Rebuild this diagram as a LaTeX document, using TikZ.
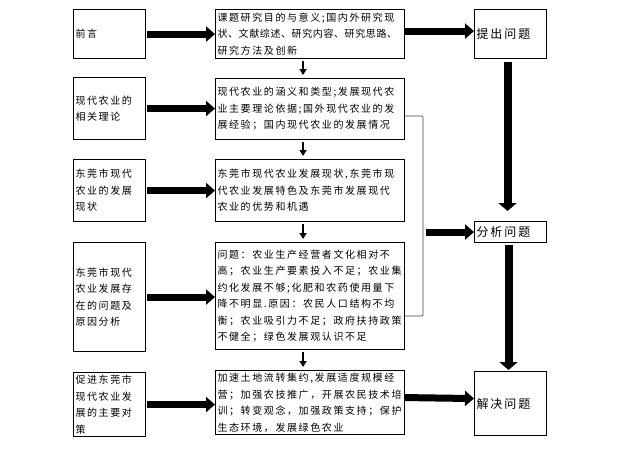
\documentclass[tikz,border=0pt]{standalone}
\usepackage{fontspec}
\newfontfamily\cjk[LetterSpace=16]{Noto Sans CJK SC}
\newfontfamily\cjktight[LetterSpace=6]{Noto Sans CJK SC}
\usetikzlibrary{arrows.meta,calc}
\begin{document}
\begin{tikzpicture}[x=1pt,y=-1pt,
  box/.style={draw, line width=1.1pt, anchor=north west, inner xsep=2pt, inner ysep=0pt,
    align=left, font=\cjk\fontsize{10}{16.5}\selectfont},
  lbox/.style={box, minimum width=72pt, text width=68pt},
  mbox/.style={box, minimum width=189pt, text width=185pt},
  rbox/.style={box, minimum width=72pt, text width=68pt, font=\cjk\fontsize{12}{16}\selectfont},
  harrow/.style={line width=7pt, -{Triangle[length=9pt,width=15pt]}},
  varrow/.style={line width=8pt, -{Triangle[length=8pt,width=18pt]}},
  sarrow/.style={line width=2.2pt, -{Triangle[length=6pt,width=7pt]}},
  bracket/.style={draw=black!75, line width=0.7pt, rounded corners=1pt}
]
\useasboundingbox (0,0) rectangle (636,448);

% left column
\node[lbox, minimum height=49pt] (L1) at (73,9) {前言};
\node[lbox, minimum height=62pt] (L2) at (73,77) {现代农业的\\相关理论};
\node[lbox, minimum height=62pt] (L3) at (73,159) {东莞市现代\\农业的发展\\现状};
\node[lbox, minimum height=109pt] (L4) at (73,242) {东莞市现代\\农业发展存\\在的问题及\\原因分析};
\node[lbox, minimum height=64pt] (L5) at (73,372) {促进东莞市\\现代农业发\\展的主要对\\策};

% middle column
\node[mbox, minimum height=49pt] (M1) at (215,9) {课题研究目的与意义;国内外研究现\\{\cjktight 状、文献综述、研究内容、研究思路、}\\研究方法及创新};
\node[mbox, minimum height=61pt] (M2) at (215,78) {现代农业的涵义和类型;发展现代农\\业主要理论依据;国外现代农业的发\\展经验；国内现代农业的发展情况};
\node[mbox, minimum height=62pt] (M3) at (215,159) {东莞市现代农业发展现状,东莞市现\\代农业发展特色及东莞市发展现代\\农业的优势和机遇};
\node[mbox, minimum height=107pt] (M4) at (215,242) {问题：农业生产经营者文化相对不\\高；农业生产要素投入不足；农业集\\约化发展不够;化肥和农药使用量下\\降不明显.原因：农民人口结构不均\\衡；农业吸引力不足；政府扶持政策\\不健全；绿色发展观认识不足};
\node[mbox, minimum height=64pt] (M5) at (215,370) {加速土地流转集约,发展适度规模经\\营；加强农技推广，开展农民技术培\\训；转变观念，加强政策支持；保护\\生态环境，发展绿色农业};

% right column
\node[rbox, minimum height=49pt] (R1) at (474,9) {提出问题};
\node[rbox, minimum height=21pt] (R2) at (474,221) {分析问题};
\node[rbox, minimum height=64pt] (R3) at (474,371) {解决问题};

% left -> middle arrows
\foreach \i in {1,...,5}{
  \draw[harrow] ([xshift=1pt]L\i.east) -- (L\i.east -| M\i.west);
}

% middle column small arrows
\foreach \a/\b in {1/2,2/3,3/4,4/5}{
  \draw[sarrow] ([xshift=-7pt,yshift=-2pt]M\a.south) -- ([xshift=-7pt,yshift=3pt]M\b.north);
}

% middle -> right arrows
\draw[harrow] ([yshift=3pt]M1.east) -- ([yshift=3pt]R1.west);
\draw[harrow] ([yshift=5pt]M5.east) -- ([yshift=5pt]R3.west);

% bracket
\coordinate (bt) at (423,116);
\coordinate (bb) at (423,316);
\coordinate (ba) at (426,232);
\draw[bracket] (bt -| M2.east) -- (bt) -- (bb) -- (bb -| M4.east);
\draw[harrow] (ba) -- (ba -| R2.west);

% right column vertical arrows
\draw[varrow] ([xshift=-3pt,yshift=-3pt]R1.south) -- ([xshift=-3pt,yshift=10pt]R2.north);
\draw[varrow] ([xshift=-2pt,yshift=-2pt]R2.south) -- ([xshift=-2pt,yshift=1pt]R3.north);
\end{tikzpicture}
\end{document}
